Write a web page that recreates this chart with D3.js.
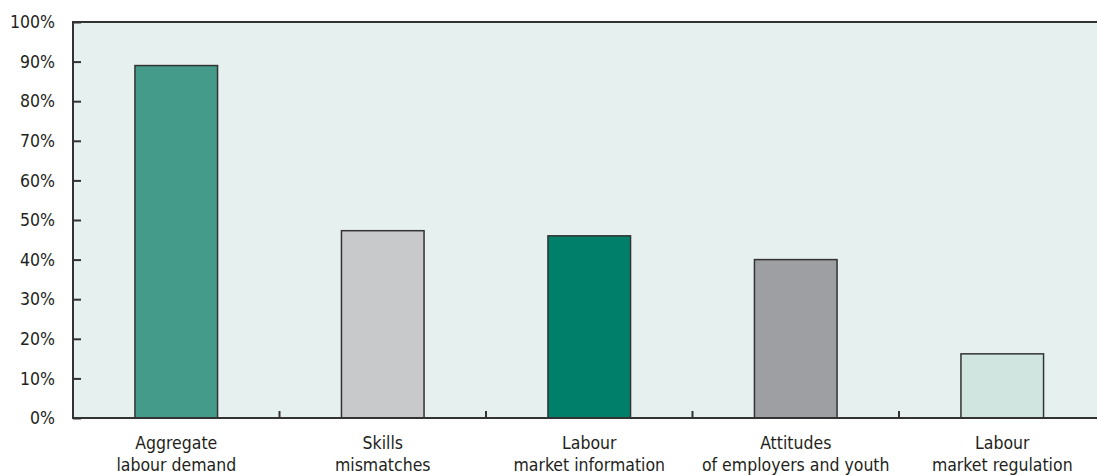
<!DOCTYPE html>
<html>
<head>
<meta charset="utf-8">
<script src="https://cdn.jsdelivr.net/npm/d3@7"></script>
<style>
  body { margin: 0; background: #fff; }
  svg text { font-family: "DejaVu Sans Condensed", "Liberation Sans Narrow", sans-serif; fill: #231f20; }
</style>
</head>
<body>
<div id="chart"></div>
<script>
// data
var categories = [
  ["Aggregate", "labour demand"],
  ["Skills", "mismatches"],
  ["Labour", "market information"],
  ["Attitudes", "of employers and youth"],
  ["Labour", "market regulation"]
];
var values = [89, 47.3, 46, 40, 16.2];
var barColors = ["#459b89", "#c8c9cb", "#00806b", "#9d9fa2", "#d1e5e0"];
var yTicks = [0, 10, 20, 30, 40, 50, 60, 70, 80, 90, 100];

var width = 1097,
    height = 475;
var plotLeft = 73, plotTop = 22, plotBottom = 418, plotRight = 1105.5;

var svg = d3.select("#chart").append("svg")
  .attr("width", width)
  .attr("height", height);

var x = d3.scaleBand()
  .domain(d3.range(categories.length))
  .range([plotLeft, plotRight])
  .paddingInner(0.6)
  .paddingOuter(0.3);

var y = d3.scaleLinear()
  .domain([0, 100])
  .range([plotBottom, plotTop]);

// plot background
svg.append("rect")
  .attr("x", plotLeft).attr("y", plotTop)
  .attr("width", plotRight - plotLeft).attr("height", plotBottom - plotTop)
  .attr("fill", "#e6f0ef");

// bars
svg.selectAll(".bar")
  .data(values)
  .enter().append("rect")
  .attr("class", "bar")
  .attr("x", (d, i) => x(i))
  .attr("y", d => y(d))
  .attr("width", x.bandwidth())
  .attr("height", d => plotBottom - y(d))
  .attr("fill", (d, i) => barColors[i])
  .attr("stroke", "#333")
  .attr("stroke-width", 1.5);

// y axis
var yAxis = d3.axisLeft(y)
  .tickValues(yTicks)
  .tickFormat(d => d + "%")
  .tickSize(-8)
  .tickPadding(18);

var gy = svg.append("g")
  .attr("transform", "translate(" + plotLeft + ",0)")
  .call(yAxis);
gy.select(".domain").remove();
gy.selectAll(".tick line").attr("stroke", "#333").attr("stroke-width", 2);
gy.selectAll(".tick text")
  .attr("font-size", 17.5)
  .attr("font-family", null)
  .attr("x", -18)
  .attr("fill", "#231f20");

// frame lines: left, top, bottom
svg.append("line")
  .attr("x1", plotLeft).attr("x2", plotLeft).attr("y1", plotTop - 1).attr("y2", plotBottom + 1)
  .attr("stroke", "#333").attr("stroke-width", 2);
svg.append("line")
  .attr("x1", plotLeft).attr("x2", width).attr("y1", plotTop).attr("y2", plotTop)
  .attr("stroke", "#333").attr("stroke-width", 2);
svg.append("line")
  .attr("x1", plotLeft).attr("x2", width).attr("y1", plotBottom).attr("y2", plotBottom)
  .attr("stroke", "#333").attr("stroke-width", 2);

// category separators
var step = x.step();
svg.selectAll(".sep")
  .data(d3.range(1, categories.length))
  .enter().append("line")
  .attr("class", "sep")
  .attr("x1", i => plotLeft + i * step)
  .attr("x2", i => plotLeft + i * step)
  .attr("y1", plotBottom)
  .attr("y2", plotBottom - 7)
  .attr("stroke", "#333").attr("stroke-width", 2);

// category labels
var labels = svg.selectAll(".cat")
  .data(categories)
  .enter().append("text")
  .attr("class", "cat")
  .attr("text-anchor", "middle")
  .attr("font-size", 17.5)
  .attr("x", (d, i) => x(i) + x.bandwidth() / 2);

labels.selectAll("tspan")
  .data(d => d)
  .enter().append("tspan")
  .attr("x", function () { return d3.select(this.parentNode).attr("x"); })
  .attr("y", (d, j) => 449 + j * 22)
  .text(d => d);
</script>
</body>
</html>
